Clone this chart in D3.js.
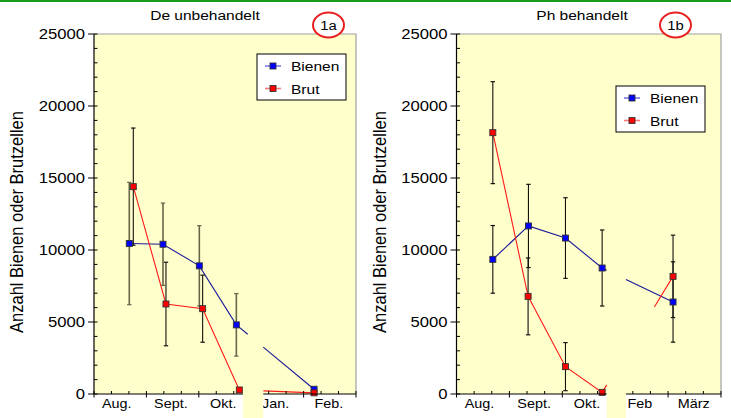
<!DOCTYPE html>
<html>
<head>
<meta charset="utf-8">
<script src="https://cdn.jsdelivr.net/npm/d3@7"></script>
<style>
  body { margin: 0; background: #fff; }
  svg { display: block; }
  text { font-family: "Liberation Sans", Arial, sans-serif; fill: #000; }
</style>
</head>
<body>
<script>
// Data
const titles = ["De unbehandelt", "Ph behandelt"];
const badges = ["1a", "1b"];
const monthsA = ["Aug.", "Sept.", "Okt.", "Jan.", "Feb."];
const monthsB = ["Aug.", "Sept.", "Okt.", "Feb", "März"];
const monthPos = [1.3, 4.4, 7.4, 10.4, 13.45];
const yTicks = [0, 5000, 10000, 15000, 20000, 25000];
const seriesNames = ["Bienen", "Brut"];

// left panel (1a)
const bienenAx = [2.02, 3.95, 6.03, 8.15, 12.6];
const bienenA = [10450, 10400, 8900, 4800, 330];
const bienenAerr = [4250, 2860, 2790, 2170, 0];
const brutAx = [2.25, 4.12, 6.22, 8.32, 12.6];
const brutA = [14400, 6250, 5925, 280, 80];
const brutAerr = [4070, 2900, 2330, 0, 0];

// right panel (1b)
const bienenBx = [2.06, 4.08, 6.18, 8.26, 12.28];
const bienenB = [9350, 11670, 10830, 8750, 6390];
const bienenBerr = [2350, 2890, 2800, 2640, 2790];
const brutBx = [2.06, 4.06, 6.18, 8.26, 12.28];
const brutB = [18150, 6780, 1900, 115, 8170];
const brutBerr = [3540, 2670, 1670, 0, 2860];

// axis break (in x units) and line gaps per series
const breakA = [8.53, 9.69], breakB = [8.52, 9.61];
const gapsA = [[8.8, 9.69], [8.53, 9.69]];
const gapsB = [[8.52, 9.61], [8.52, 11.22]];

// Layout / style
const W = 731, H = 418;
const PLOT_BG = "#ffffcc";
const LINE_COLORS = ["#1a1a9a", "#ff1a1a"];
const MARK_COLORS = ["#0000ff", "#ff0000"];
const LEGEND_LINE = ["#7a7ae6", "#ff7a7a"];
const SX = 1.15;   // the picture is stretched sideways

const svg = d3.select("body").append("svg")
  .attr("width", W).attr("height", H);

svg.append("rect").attr("width", W).attr("height", H).attr("fill", "#fff");
svg.append("rect").attr("x", 0).attr("y", 0).attr("width", W).attr("height", 2)
  .attr("fill", "#1a9a1a");

var addText = function(g, str, x, y, size, anchor, sx)
{
  return g.append("text")
    .attr("transform", "translate(" + x + "," + y + ") scale(" + (sx || SX) + ",1)")
    .attr("text-anchor", anchor || "middle")
    .style("font-size", size + "px")
    .text(str);
}

// split a series into path pieces around a gap
var pieces = function(pts, gap)
{
  let out = [[pts[0]]];
  for (let i = 1; i < pts.length; i++)
  {
    let a = pts[i - 1], b = pts[i];
    if (gap && a[0] < gap[0] && b[0] > gap[1])
    {
      let f = d3.interpolateNumber(a[1], b[1]);
      let t0 = (gap[0] - a[0]) / (b[0] - a[0]);
      let t1 = (gap[1] - a[0]) / (b[0] - a[0]);
      out[out.length - 1].push([gap[0], f(t0)]);
      out.push([[gap[1], f(t1)]]);
    }
    out[out.length - 1].push(b);
  }
  return out;
}

var drawPanel = function(p)
{
  const g = svg.append("g");
  const x = d3.scaleLinear().domain([0, 15]).range([p.left, p.right]);
  const y = d3.scaleLinear().domain([0, 25000]).range([394, 34]);

  // plot area
  g.append("rect")
    .attr("x", p.left).attr("y", y(25000))
    .attr("width", p.right - p.left).attr("height", y(0) - y(25000))
    .attr("fill", PLOT_BG);
  g.append("path")
    .attr("d", "M" + p.left + "," + y(25000) + "H" + p.right + "V" + y(0))
    .attr("fill", "none").attr("stroke", "#a0a0a0").attr("stroke-width", 1.2);

  // lines
  const line = d3.line().x(d => x(d[0])).y(d => y(d[1]));
  p.series.forEach((s, si) => {
    let pts = s.xs.map((v, i) => [v, s.ys[i]]);
    pieces(pts, p.gaps[si]).forEach(seg => {
      g.append("path").attr("d", line(seg))
        .attr("fill", "none").attr("stroke", LINE_COLORS[si]).attr("stroke-width", 1.1);
    });
  });

  // error bars
  p.series.forEach((s, si) => {
    s.xs.forEach((v, i) => {
      let e = s.err[i];
      if (!e) return;
      let cx = x(v), col = p.errColors[si], sw = p.errWidths[si];
      g.append("line").attr("x1", cx).attr("x2", cx)
        .attr("y1", y(s.ys[i] + e)).attr("y2", y(s.ys[i] - e))
        .attr("stroke", col).attr("stroke-width", sw);
      [s.ys[i] + e, s.ys[i] - e].forEach(yv => {
        g.append("line").attr("x1", cx - 2.2).attr("x2", cx + 2.2)
          .attr("y1", y(yv)).attr("y2", y(yv))
          .attr("stroke", col).attr("stroke-width", 1.2);
      });
    });
  });

  // markers
  p.series.forEach((s, si) => {
    g.selectAll(null).data(s.xs.map((v, i) => [v, s.ys[i]])).enter()
      .append("rect")
      .attr("x", d => x(d[0]) - 3).attr("y", d => y(d[1]) - 3)
      .attr("width", 6).attr("height", 6)
      .attr("fill", MARK_COLORS[si]).attr("stroke", "#333").attr("stroke-width", 0.9);
  });

  // y axis
  g.append("line").attr("x1", p.left).attr("x2", p.left)
    .attr("y1", y(25000)).attr("y2", y(0)).attr("stroke", "#000").attr("stroke-width", 1.2);
  d3.range(0, 25001, 1000).forEach(v => {
    let major = v % 5000 === 0;
    g.append("line")
      .attr("x1", major ? p.left - 6 : p.left).attr("x2", p.left + 3.5)
      .attr("y1", y(v)).attr("y2", y(v)).attr("stroke", "#000").attr("stroke-width", 1);
  });
  yTicks.forEach(v => {
    addText(g, v, p.left - 9, y(v) + 5, 14.5, "end");
  });

  // x axis
  g.append("line").attr("x1", p.left).attr("x2", p.right)
    .attr("y1", y(0)).attr("y2", y(0)).attr("stroke", "#000").attr("stroke-width", 1.2);
  d3.range(0, 16).forEach(v => {
    let major = v % 3 === 0;
    g.append("line").attr("x1", x(v)).attr("x2", x(v))
      .attr("y1", y(0) - 3).attr("y2", major ? y(0) + 3.5 : y(0))
      .attr("stroke", "#000").attr("stroke-width", 1);
  });
  p.months.forEach((m, i) => {
    addText(g, m, x(monthPos[i]), 408, 12.5, "middle");
  });

  // axis break
  g.append("rect")
    .attr("x", x(p.brk[0])).attr("y", y(0) - 3.5)
    .attr("width", x(p.brk[1]) - x(p.brk[0])).attr("height", H - y(0) + 3.5)
    .attr("fill", PLOT_BG);

  // y label
  g.append("text")
    .attr("transform", "translate(" + (p.left - 71) + ",222) scale(1.15,1) rotate(-90)")
    .attr("text-anchor", "middle")
    .style("font-size", "16.5px")
    .text("Anzahl Bienen oder Brutzellen");

  // title and badge
  addText(g, p.title, p.titleX, 20, 13.5, "middle");
  g.append("ellipse").attr("cx", p.badgeX).attr("cy", 25).attr("rx", 15.5).attr("ry", 12.5)
    .attr("fill", "#fff").attr("stroke", "#e82020").attr("stroke-width", 2);
  addText(g, p.badge, p.badgeX, 30, 13.5, "middle", 1.1);

  // legend
  const lg = g.append("g");
  lg.append("rect").attr("x", p.legend[0]).attr("y", p.legend[1])
    .attr("width", 89).attr("height", 46)
    .attr("fill", "#fff").attr("stroke", "#000").attr("stroke-width", 1);
  seriesNames.forEach((n, i) => {
    let ly = p.legend[1] + 12 + i * 22.5;
    let lx = p.legend[0] + 8;
    lg.append("line").attr("x1", lx).attr("x2", lx + 16)
      .attr("y1", ly).attr("y2", ly)
      .attr("stroke", LEGEND_LINE[i]).attr("stroke-width", 1.6);
    lg.append("rect").attr("x", lx + 5).attr("y", ly - 3).attr("width", 6).attr("height", 6)
      .attr("fill", MARK_COLORS[i]).attr("stroke", "#333").attr("stroke-width", 0.9);
    addText(lg, n, lx + 26, ly + 5, 13.5, "start");
  });
}

drawPanel({
  left: 94, right: 356, title: titles[0], titleX: 205, badge: badges[0], badgeX: 328.5,
  months: monthsA, brk: breakA, gaps: gapsA, legend: [257, 54],
  errColors: ["#66664a", "#111"], errWidths: [1.6, 1.1],
  series: [
    { xs: bienenAx, ys: bienenA, err: bienenAerr },
    { xs: brutAx, ys: brutA, err: brutAerr }
  ]
});

drawPanel({
  left: 456.5, right: 721, title: titles[1], titleX: 582, badge: badges[1], badgeX: 675.5,
  months: monthsB, brk: breakB, gaps: gapsB, legend: [616, 86],
  errColors: ["#111", "#111"], errWidths: [1.1, 1.1],
  series: [
    { xs: bienenBx, ys: bienenB, err: bienenBerr },
    { xs: brutBx, ys: brutB, err: brutBerr }
  ]
});
</script>
</body>
</html>
